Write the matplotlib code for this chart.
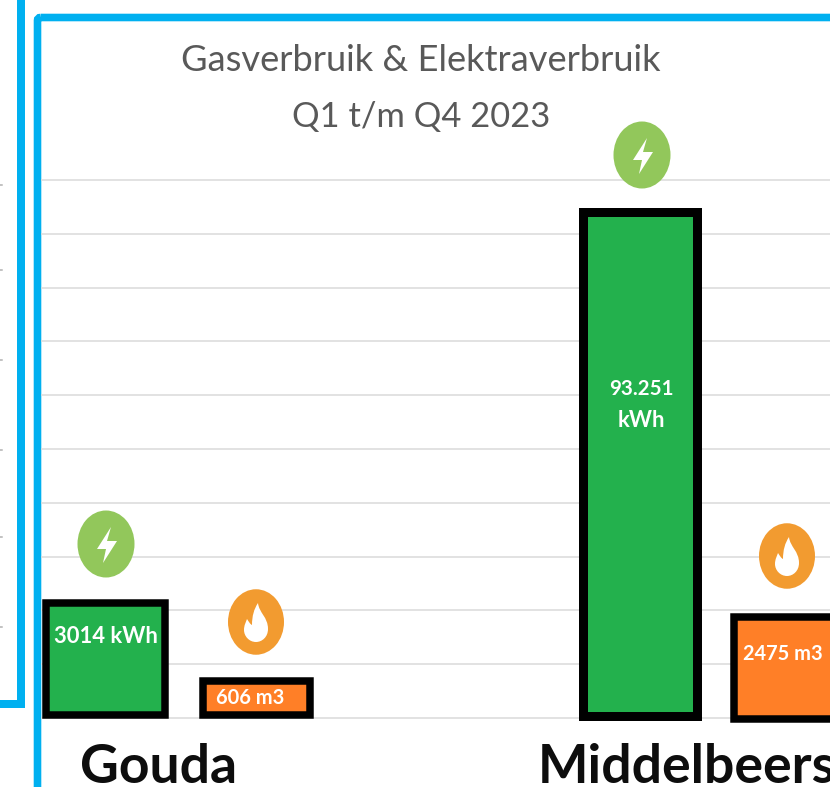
import matplotlib
matplotlib.use("Agg")
import matplotlib.pyplot as plt
from matplotlib.patches import Ellipse, PathPatch, Polygon, FancyBboxPatch
from matplotlib.path import Path

categories = ["Gouda", "Middelbeers"]
elec_values = [21.4, 94.0]
gas_values = [6.9, 18.8]
elec_labels = ["3014 kWh", "93.251", "kWh"]
gas_labels = ["606 m3", "2475 m3"]
title_lines = ["Gasverbruik & Elektraverbruik", "Q1 t/m Q4 2023"]
grid_ticks = [0, 10, 20, 30, 40, 50, 60, 70, 80, 90, 100]

W, H = 830, 787
PX = 72 / 100
BLUE, GREEN, ORANGE = "#00B0F0", "#23B14D", "#FF7F27"
ICON_G, ICON_O = "#92C75B", "#F29B30"
FONT = "Lato"

fig = plt.figure(figsize=(W / 100, H / 100), dpi=100, facecolor="white")

# data axes: value 0 at pixel row 718, value 100 at pixel row 180
ax = fig.add_axes([0, 0, 1, 1], zorder=2)
ax.patch.set_alpha(0)
ax.set_xlim(0, W)
ax.set_ylim((718 - H) / 5.38, 718 / 5.38)
ax.axis("off")

# pixel overlay for frame, icons, text
dk = fig.add_axes([0, 0, 1, 1], zorder=1)
dk.set_xlim(0, W); dk.set_ylim(H, 0); dk.axis("off")
ov = fig.add_axes([0, 0, 1, 1], zorder=3)
ov.patch.set_alpha(0)
ov.set_xlim(0, W); ov.set_ylim(H, 0); ov.axis("off")

for t in grid_ticks:
    ax.plot([41, W], [t, t], color="#DCDCDC", lw=1.6 * PX, zorder=1, solid_capstyle="butt")

elec_x = [105, 640]
elec_w = [119, 114]
elec_lw = [7.5, 9]
elec_base = [0.56, 0.28]
gas_x = [256, 787]
gas_w = [107, 106]
gas_base = [0.56, -0.2]
for i in range(2):
    ax.bar(elec_x[i], elec_values[i] - elec_base[i], width=elec_w[i], bottom=elec_base[i],
           color=GREEN, edgecolor="black", linewidth=elec_lw[i] * PX, zorder=3)
    ax.bar(gas_x[i], gas_values[i] - gas_base[i], width=gas_w[i], bottom=gas_base[i],
           color=ORANGE, edgecolor="black", linewidth=7.5 * PX, zorder=3)

# frames
def vline(x0, x1, y0, y1):
    dk.add_patch(plt.Rectangle((x0, y0), x1 - x0, y1 - y0, color=BLUE, lw=0))
vline(17.3, 25.3, 0, 708)
vline(0, 25.3, 700, 708)
dk.add_patch(FancyBboxPatch((37.5, 17.5), 900, 900, boxstyle="round,pad=0,rounding_size=3",
                            fc="none", ec=BLUE, lw=7.6 * PX))
# cut-off marks of the neighbouring panel
for y in [185, 270, 360, 450, 537, 627]:
    dk.plot([0, 1.5], [y, y], color="#B0B0B0", lw=1.5 * PX)

# icons
BOLT = [(5, -17), (-9, 5), (0, 5), (-3, 19), (11, -3), (1, -3)]
M, C, L, Z = Path.MOVETO, Path.CURVE4, Path.LINETO, Path.CLOSEPOLY
FLAME_V = [(2, -19),
           (3, -9), (12, -5), (12, 7),
           (12, 15), (6, 20), (0, 20),
           (-7, 20), (-12, 14), (-12, 8),
           (-12, 3), (-10, 0), (-9, -3),
           (-7, 0), (-6, 2), (-4, 3),
           (-4, -6), (-2, -13), (2, -19),
           (2, -19)]
FLAME_C = [M] + [C] * 18 + [Z]

def bolt(cx, cy):
    ov.add_patch(Ellipse((cx, cy), 57, 67, fc=ICON_G, ec="none", zorder=4))
    ov.add_patch(Polygon([(cx + a, cy + b) for a, b in BOLT], closed=True, fc="white", ec="none", zorder=5))

def flame(cx, cy):
    ov.add_patch(Ellipse((cx, cy), 56, 65.5, fc=ICON_O, ec="none", zorder=4))
    ov.add_patch(PathPatch(Path([(cx + a, cy + b) for a, b in FLAME_V], FLAME_C), fc="white", ec="none", zorder=5))

bolt(106, 544); bolt(642, 155)
flame(256, 622); flame(787, 556)

# text
for s, y, fs in zip(title_lines, [71, 127], [36.2, 34.5]):
    ov.text(421, y, s, ha="center", va="baseline", color="#595959", fontsize=fs * PX, family=FONT)

lab = dict(ha="center", va="baseline", color="white", family=FONT, fontweight="bold", zorder=6)
ov.text(105.5, 643, elec_labels[0], fontsize=22 * PX, **lab)
ov.text(641, 395, elec_labels[1], fontsize=20.5 * PX, **lab)
ov.text(641, 427, elec_labels[2], fontsize=22 * PX, **lab)
ov.text(250.5, 704, gas_labels[0], fontsize=20 * PX, **lab)
ov.text(782.5, 660, gas_labels[1], fontsize=20 * PX, **lab)

for s, x in zip(categories, [80, 538]):
    ov.text(x, 783, s, ha="left", va="baseline", color="#0D0D0D", fontsize=53.5 * PX,
            family=FONT, fontweight="bold", clip_on=False)

fig.savefig("out.png", dpi=100)
